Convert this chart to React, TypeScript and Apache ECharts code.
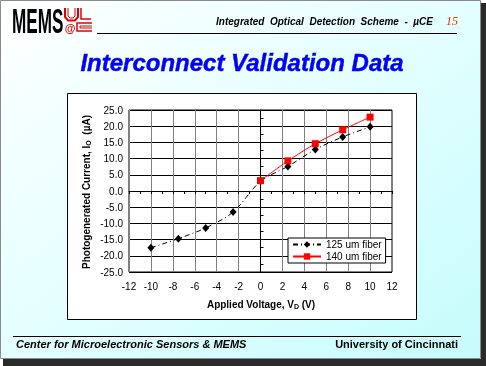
import React, { useEffect, useRef } from 'react';
import * as echarts from 'echarts';

// ---- data ----
const voltage125 = [-10, -7.5, -5, -2.5, 0, 2.5, 5, 7.5, 10];
const current125 = [-17.5, -14.7, -11.4, -6.5, 3.0, 7.6, 12.8, 16.7, 19.8];
const voltage140 = [0, 2.5, 5, 7.5, 10];
const current140 = [3.2, 9.3, 14.6, 18.9, 22.8];
const seriesNames = ['125 um fiber', '140 um fiber'];
const xMin = -12;
const xMax = 12;
const xStep = 2;
const xMinorStep = 1;
const yMin = -25;
const yMax = 25;
const yStep = 5;
const yMinorStep = 2.5;

const SANS = '"Liberation Sans", Arial, sans-serif';

export default function App() {
  const ref = useRef<HTMLDivElement>(null);

  useEffect(() => {
    if (!ref.current) return;
    const chart = echarts.init(ref.current, null, { renderer: 'svg' });

    const data125 = voltage125.map((v, i) => [v, current125[i]]);
    const data140 = voltage140.map((v, i) => [v, current140[i]]);

    const bg = { z: -100, zlevel: 0 };

    const option: any = {
      animation: false,
      backgroundColor: 'transparent',
      graphic: [
        // slide shadow
        { type: 'rect', ...bg, shape: { x: 481, y: 3, width: 5, height: 363 }, style: { fill: '#2a2a2a' } },
        { type: 'rect', ...bg, shape: { x: 3, y: 359, width: 483, height: 7 }, style: { fill: '#2a2a2a' } },
        // slide background
        {
          type: 'rect', ...bg,
          shape: { x: 0.5, y: 0.5, width: 480, height: 358 },
          style: {
            fill: new echarts.graphic.LinearGradient(0, 0, 1, 1, [
              { offset: 0, color: '#ffffff' },
              { offset: 0.45, color: '#e6ffff' },
              { offset: 1, color: '#c6fcfc' },
            ]),
            stroke: '#8a8a8a',
            lineWidth: 1,
          },
        },
        // chart box
        {
          type: 'rect', ...bg, z: -90,
          shape: { x: 67.5, y: 93.5, width: 349, height: 226 },
          style: { fill: '#ffffff', stroke: '#000000', lineWidth: 1 },
        },
        // MEMS logo
        {
          type: 'text', x: 12, y: 21, scaleX: 0.49,
          style: { text: 'MEMS', font: `bold 35px ${SANS}`, fill: '#000000', verticalAlign: 'middle' },
        },
        { type: 'polyline', shape: { points: [[65, 8], [65, 17], [68, 20.5], [75, 20.5], [78, 17], [78, 8]] }, style: { stroke: '#e00000', lineWidth: 2, fill: 'none' } },
        { type: 'polyline', shape: { points: [[68, 8], [68, 16], [70, 18], [73, 18], [75, 16], [75, 8]] }, style: { stroke: '#e00000', lineWidth: 1, fill: 'none' } },
        { type: 'polyline', shape: { points: [[81, 8], [81, 19], [91, 19]] }, style: { stroke: '#e00000', lineWidth: 1.5, fill: 'none' } },
        { type: 'polyline', shape: { points: [[92, 23], [77, 23], [77, 31], [92, 31]] }, style: { stroke: '#e00000', lineWidth: 1.5, fill: 'none' } },
        { type: 'polyline', shape: { points: [[92, 26], [80, 26], [80, 28], [92, 28]] }, style: { stroke: '#e00000', lineWidth: 1, fill: 'none' } },
        { type: 'text', x: 70, y: 27.5, style: { text: '@', font: `bold 11px ${SANS}`, fill: '#e00000', align: 'center', verticalAlign: 'middle' } },
        // header
        { type: 'text', x: 433, y: 21, style: { text: 'Integrated  Optical  Detection  Scheme  -  µCE', font: `italic bold 10px ${SANS}`, fill: '#000000', align: 'right', verticalAlign: 'middle' } },
        { type: 'text', x: 452, y: 21, style: { text: '15', font: `italic 12px "Liberation Serif", serif`, fill: '#ff2a00', align: 'center', verticalAlign: 'middle' } },
        { type: 'line', shape: { x1: 97, y1: 33.5, x2: 457, y2: 33.5 }, style: { stroke: '#000000', lineWidth: 1 } },
        // title (with drop shadow)
        {
          type: 'text', x: 242, y: 62,
          style: {
            text: 'Interconnect Validation Data', font: `italic bold 24px ${SANS}`, fill: '#0000ff',
            align: 'center', verticalAlign: 'middle',
            shadowColor: '#000030', shadowBlur: 2, shadowOffsetX: 2, shadowOffsetY: 2,
            stroke: '#00008a', lineWidth: 0.4,
          },
        },
        // axis titles
        {
          type: 'text', x: 86, y: 192, rotation: Math.PI / 2,
          style: {
            text: 'Photogenerated Current, I{s|O}  (µA)',
            font: `bold 10px ${SANS}`, fill: '#000000', align: 'center', verticalAlign: 'middle',
            rich: { s: { font: `bold 7px ${SANS}`, fill: '#000000', verticalAlign: 'bottom', padding: [4, 0, 0, 0] } },
          },
        },
        {
          type: 'text', x: 261, y: 304,
          style: {
            text: 'Applied Voltage, V{s|D} (V)',
            font: `bold 10px ${SANS}`, fill: '#000000', align: 'center', verticalAlign: 'middle',
            rich: { s: { font: `bold 7px ${SANS}`, fill: '#000000', verticalAlign: 'bottom', padding: [4, 0, 0, 0] } },
          },
        },
        // footer
        { type: 'line', shape: { x1: 13, y1: 336.5, x2: 461, y2: 336.5 }, style: { stroke: '#000000', lineWidth: 1 } },
        { type: 'text', x: 16, y: 344, style: { text: 'Center for Microelectronic Sensors & MEMS', font: `italic bold 11px ${SANS}`, fill: '#000000', align: 'left', verticalAlign: 'middle' } },
        { type: 'text', x: 458, y: 344, style: { text: 'University of Cincinnati', font: `bold 11px ${SANS}`, fill: '#000000', align: 'right', verticalAlign: 'middle' } },
      ],
      grid: {
        left: 129, top: 110, width: 263, height: 162,
        show: true, borderColor: '#000000', borderWidth: 1, backgroundColor: '#ffffff',
        outerBoundsMode: 'none', containLabel: false,
      },
      legend: {
        data: seriesNames,
        orient: 'vertical',
        left: 288, top: 238,
        padding: [1, 4, 1, 4],
        itemGap: 1,
        itemWidth: 28, itemHeight: 8,
        backgroundColor: '#ffffff', borderColor: '#000000', borderWidth: 1, borderRadius: 0,
        textStyle: { fontFamily: SANS, fontSize: 10, color: '#000000', lineHeight: 11 },
      },
      xAxis: [
        {
          type: 'value', min: xMin, max: xMax, interval: xStep, position: 'bottom',
          axisLine: { show: false, onZero: false },
          axisTick: { show: false },
          axisLabel: { show: true, margin: 9, fontFamily: SANS, fontSize: 10, color: '#000000' },
          splitLine: { show: true, lineStyle: { color: '#808080', width: 1, type: 'solid' } },
        },
        {
          type: 'value', min: xMin, max: xMax, interval: xMinorStep, position: 'top',
          axisLine: { show: true, onZero: true, onZeroAxisIndex: 0, lineStyle: { color: '#000000', width: 1 } },
          axisTick: { show: true, inside: true, length: 3, lineStyle: { color: '#000000', width: 1 } },
          axisLabel: { show: false },
          splitLine: { show: false },
        },
      ],
      yAxis: [
        {
          type: 'value', min: yMin, max: yMax, interval: yStep, position: 'left',
          axisLine: { show: false, onZero: false },
          axisTick: { show: false },
          axisLabel: { show: true, margin: 6, fontFamily: SANS, fontSize: 10, color: '#000000', formatter: (v: number) => v.toFixed(1) },
          splitLine: { show: true, lineStyle: { color: '#000000', width: 1, type: 'solid' } },
        },
        {
          type: 'value', min: yMin, max: yMax, interval: yMinorStep, position: 'right',
          axisLine: { show: true, onZero: true, onZeroAxisIndex: 0, lineStyle: { color: '#000000', width: 1 } },
          axisTick: { show: true, inside: false, length: 3, lineStyle: { color: '#000000', width: 1 } },
          axisLabel: { show: false },
          splitLine: { show: false },
        },
      ],
      series: [
        {
          name: seriesNames[0], type: 'line', data: data125, smooth: 0.3,
          xAxisIndex: 0, yAxisIndex: 0,
          symbol: 'diamond', symbolSize: [7, 8],
          itemStyle: { color: '#000000' },
          lineStyle: { color: '#000000', width: 1, type: [5, 3, 1, 3] },
          z: 3,
        },
        {
          name: seriesNames[1], type: 'line', data: data140, smooth: 0.2,
          xAxisIndex: 0, yAxisIndex: 0,
          symbol: 'rect', symbolSize: 7,
          itemStyle: { color: '#ff0000' },
          lineStyle: { color: '#ff0000', width: 1, type: 'solid' },
          z: 4,
        },
      ],
    };

    chart.setOption(option);
    return () => chart.dispose();
  }, []);

  return (
    <div
      ref={ref}
      style={{ position: 'fixed', left: 0, top: 0, width: 486, height: 366 }}
    />
  );
}
